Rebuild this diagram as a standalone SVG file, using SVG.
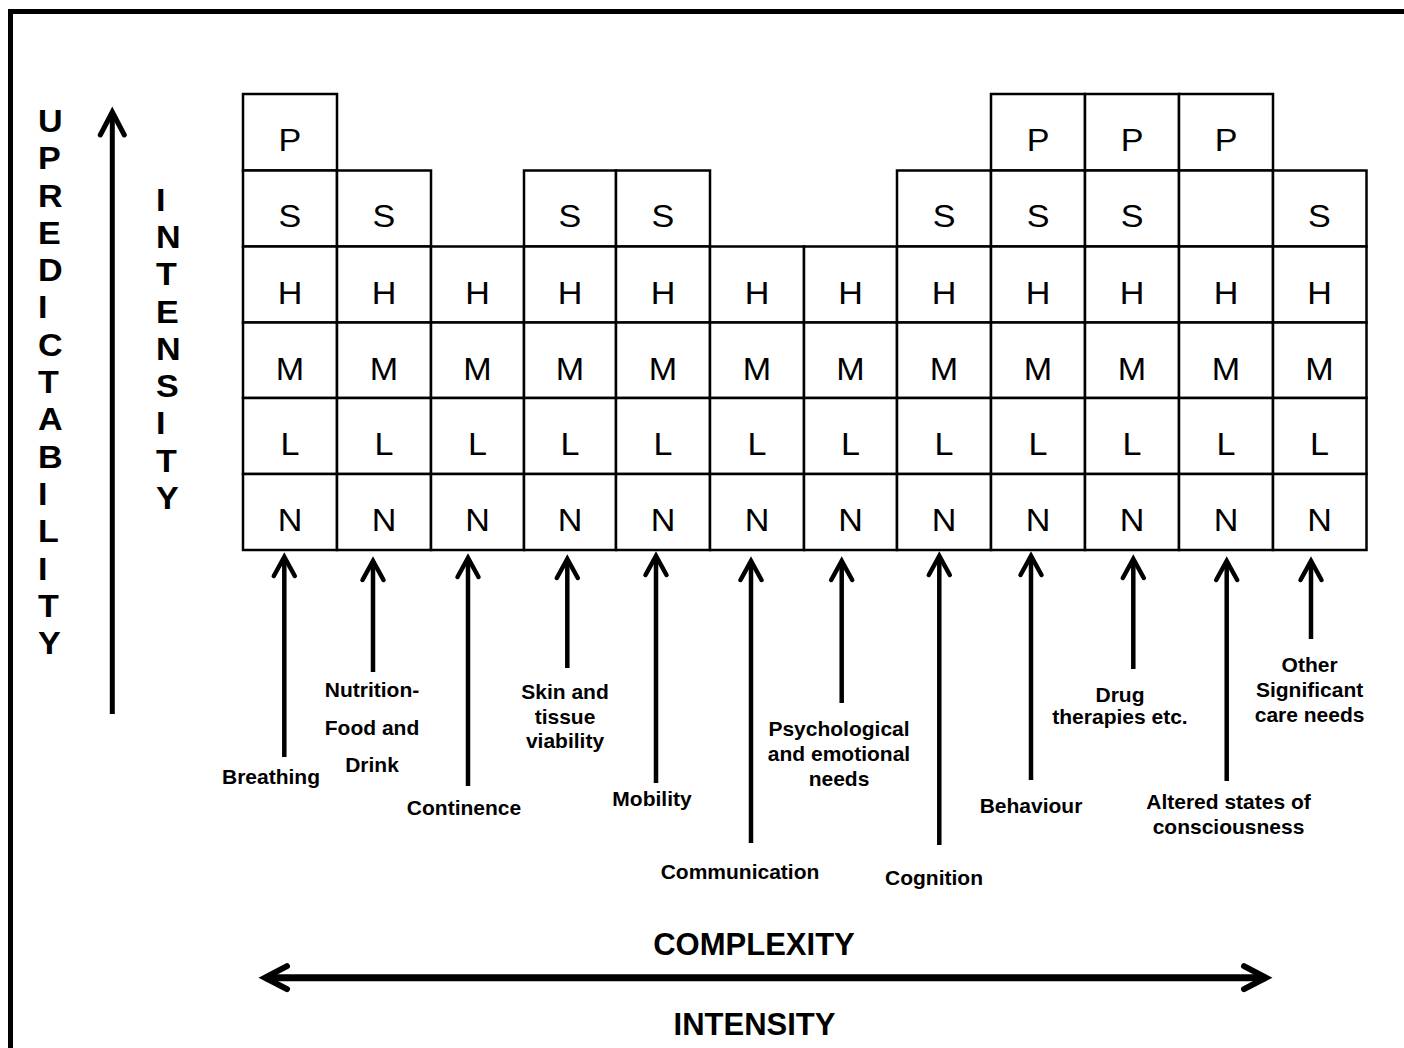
<svg xmlns="http://www.w3.org/2000/svg" width="1404" height="1048" viewBox="0 0 1404 1048">
<style>
.bg{fill:#fff}
.frame{fill:none;stroke:#000;stroke-width:5}
.cell{fill:#fff;stroke:#000;stroke-width:2.5}
.g{font-family:"Liberation Sans",Arial,sans-serif;font-size:31px;text-anchor:middle;fill:#000}
.g text{transform-box:fill-box;transform-origin:center;transform:scaleX(1.1)}
.lab{font-family:"Liberation Sans",Arial,sans-serif;font-weight:bold;font-size:21px;text-anchor:middle;fill:#000}
.axis{font-family:"Liberation Sans",Arial,sans-serif;font-weight:bold;font-size:31px;fill:#000}
.vert{transform-box:fill-box;transform-origin:left center;transform:scaleX(1.1)}
.conn{fill:none;stroke:#000;stroke-width:4.5;marker-end:url(#chev)}
.big{fill:none;stroke:#000;stroke-linecap:butt}
</style>
<defs>
<marker id="chev" markerUnits="userSpaceOnUse" viewBox="-25 -15 30 30" refX="0" refY="0" markerWidth="30" markerHeight="30" orient="auto" overflow="visible">
<path d="M-19,-10.5 L0,0 L-19,10.5" fill="none" stroke="#000" stroke-width="4.5" stroke-linecap="round" stroke-linejoin="miter"/>
</marker>
<marker id="chevBig" markerUnits="userSpaceOnUse" viewBox="-30 -16 36 32" refX="0" refY="0" markerWidth="36" markerHeight="32" orient="auto" overflow="visible">
<path d="M-23,-12 L0,0 L-23,12" fill="none" stroke="#000" stroke-width="5" stroke-linecap="round" stroke-linejoin="miter"/>
</marker>
<marker id="chevH" markerUnits="userSpaceOnUse" viewBox="-30 -16 36 32" refX="0" refY="0" markerWidth="36" markerHeight="32" orient="auto-start-reverse" overflow="visible">
<path d="M-22,-11.5 L0,0 L-22,11.5" fill="none" stroke="#000" stroke-width="6" stroke-linecap="round" stroke-linejoin="miter"/>
</marker>
</defs>
<rect class="bg" x="0" y="0" width="1404" height="1048"/>
<rect class="frame" x="10.5" y="11.5" width="1500" height="1500"/>

<g id="axis-unpredictability">
<line class="big" x1="112.3" y1="714" x2="112.3" y2="112" stroke-width="5" marker-end="url(#chevBig)"/>
<text class="axis vert" font-size="30"><tspan x="38" y="132">U</tspan><tspan x="38" dy="37.3">P</tspan><tspan x="38" dy="37.3">R</tspan><tspan x="38" dy="37.3">E</tspan><tspan x="38" dy="37.3">D</tspan><tspan x="38" dy="37.3">I</tspan><tspan x="38" dy="37.3">C</tspan><tspan x="38" dy="37.3">T</tspan><tspan x="38" dy="37.3">A</tspan><tspan x="38" dy="37.3">B</tspan><tspan x="38" dy="37.3">I</tspan><tspan x="38" dy="37.3">L</tspan><tspan x="38" dy="37.3">I</tspan><tspan x="38" dy="37.3">T</tspan><tspan x="38" dy="37.3">Y</tspan></text>
</g>
<g id="axis-intensity-vertical">
<text class="axis vert" font-size="30"><tspan x="156" y="211">I</tspan><tspan x="156" dy="37.25">N</tspan><tspan x="156" dy="37.25">T</tspan><tspan x="156" dy="37.25">E</tspan><tspan x="156" dy="37.25">N</tspan><tspan x="156" dy="37.25">S</tspan><tspan x="156" dy="37.25">I</tspan><tspan x="156" dy="37.25">T</tspan><tspan x="156" dy="37.25">Y</tspan></text>
</g>

<g id="grid">
<g id="col-breathing">
<rect class="cell" x="243" y="94" width="94" height="76.5"/>
<rect class="cell" x="243" y="170.5" width="94" height="76"/>
<rect class="cell" x="243" y="246.5" width="94" height="76"/>
<rect class="cell" x="243" y="322.5" width="94" height="75.5"/>
<rect class="cell" x="243" y="398" width="94" height="76"/>
<rect class="cell" x="243" y="474" width="94" height="76"/>
<g class="g"><text x="290" y="151">P</text><text x="290" y="227">S</text><text x="290" y="304">H</text><text x="290" y="380">M</text><text x="290" y="455">L</text><text x="290" y="531">N</text></g>
</g>
<g id="col-nutrition">
<rect class="cell" x="337" y="170.5" width="94" height="76"/>
<rect class="cell" x="337" y="246.5" width="94" height="76"/>
<rect class="cell" x="337" y="322.5" width="94" height="75.5"/>
<rect class="cell" x="337" y="398" width="94" height="76"/>
<rect class="cell" x="337" y="474" width="94" height="76"/>
<g class="g"><text x="384" y="227">S</text><text x="384" y="304">H</text><text x="384" y="380">M</text><text x="384" y="455">L</text><text x="384" y="531">N</text></g>
</g>
<g id="col-continence">
<rect class="cell" x="431" y="246.5" width="93" height="76"/>
<rect class="cell" x="431" y="322.5" width="93" height="75.5"/>
<rect class="cell" x="431" y="398" width="93" height="76"/>
<rect class="cell" x="431" y="474" width="93" height="76"/>
<g class="g"><text x="477.5" y="304">H</text><text x="477.5" y="380">M</text><text x="477.5" y="455">L</text><text x="477.5" y="531">N</text></g>
</g>
<g id="col-skin">
<rect class="cell" x="524" y="170.5" width="92" height="76"/>
<rect class="cell" x="524" y="246.5" width="92" height="76"/>
<rect class="cell" x="524" y="322.5" width="92" height="75.5"/>
<rect class="cell" x="524" y="398" width="92" height="76"/>
<rect class="cell" x="524" y="474" width="92" height="76"/>
<g class="g"><text x="570" y="227">S</text><text x="570" y="304">H</text><text x="570" y="380">M</text><text x="570" y="455">L</text><text x="570" y="531">N</text></g>
</g>
<g id="col-mobility">
<rect class="cell" x="616" y="170.5" width="94" height="76"/>
<rect class="cell" x="616" y="246.5" width="94" height="76"/>
<rect class="cell" x="616" y="322.5" width="94" height="75.5"/>
<rect class="cell" x="616" y="398" width="94" height="76"/>
<rect class="cell" x="616" y="474" width="94" height="76"/>
<g class="g"><text x="663" y="227">S</text><text x="663" y="304">H</text><text x="663" y="380">M</text><text x="663" y="455">L</text><text x="663" y="531">N</text></g>
</g>
<g id="col-communication">
<rect class="cell" x="710" y="246.5" width="94" height="76"/>
<rect class="cell" x="710" y="322.5" width="94" height="75.5"/>
<rect class="cell" x="710" y="398" width="94" height="76"/>
<rect class="cell" x="710" y="474" width="94" height="76"/>
<g class="g"><text x="757" y="304">H</text><text x="757" y="380">M</text><text x="757" y="455">L</text><text x="757" y="531">N</text></g>
</g>
<g id="col-psychological">
<rect class="cell" x="804" y="246.5" width="93" height="76"/>
<rect class="cell" x="804" y="322.5" width="93" height="75.5"/>
<rect class="cell" x="804" y="398" width="93" height="76"/>
<rect class="cell" x="804" y="474" width="93" height="76"/>
<g class="g"><text x="850.5" y="304">H</text><text x="850.5" y="380">M</text><text x="850.5" y="455">L</text><text x="850.5" y="531">N</text></g>
</g>
<g id="col-cognition">
<rect class="cell" x="897" y="170.5" width="94" height="76"/>
<rect class="cell" x="897" y="246.5" width="94" height="76"/>
<rect class="cell" x="897" y="322.5" width="94" height="75.5"/>
<rect class="cell" x="897" y="398" width="94" height="76"/>
<rect class="cell" x="897" y="474" width="94" height="76"/>
<g class="g"><text x="944" y="227">S</text><text x="944" y="304">H</text><text x="944" y="380">M</text><text x="944" y="455">L</text><text x="944" y="531">N</text></g>
</g>
<g id="col-behaviour">
<rect class="cell" x="991" y="94" width="94" height="76.5"/>
<rect class="cell" x="991" y="170.5" width="94" height="76"/>
<rect class="cell" x="991" y="246.5" width="94" height="76"/>
<rect class="cell" x="991" y="322.5" width="94" height="75.5"/>
<rect class="cell" x="991" y="398" width="94" height="76"/>
<rect class="cell" x="991" y="474" width="94" height="76"/>
<g class="g"><text x="1038" y="151">P</text><text x="1038" y="227">S</text><text x="1038" y="304">H</text><text x="1038" y="380">M</text><text x="1038" y="455">L</text><text x="1038" y="531">N</text></g>
</g>
<g id="col-drug">
<rect class="cell" x="1085" y="94" width="94" height="76.5"/>
<rect class="cell" x="1085" y="170.5" width="94" height="76"/>
<rect class="cell" x="1085" y="246.5" width="94" height="76"/>
<rect class="cell" x="1085" y="322.5" width="94" height="75.5"/>
<rect class="cell" x="1085" y="398" width="94" height="76"/>
<rect class="cell" x="1085" y="474" width="94" height="76"/>
<g class="g"><text x="1132" y="151">P</text><text x="1132" y="227">S</text><text x="1132" y="304">H</text><text x="1132" y="380">M</text><text x="1132" y="455">L</text><text x="1132" y="531">N</text></g>
</g>
<g id="col-altered">
<rect class="cell" x="1179" y="94" width="94" height="76.5"/>
<rect class="cell" x="1179" y="170.5" width="94" height="76"/>
<rect class="cell" x="1179" y="246.5" width="94" height="76"/>
<rect class="cell" x="1179" y="322.5" width="94" height="75.5"/>
<rect class="cell" x="1179" y="398" width="94" height="76"/>
<rect class="cell" x="1179" y="474" width="94" height="76"/>
<g class="g"><text x="1226" y="151">P</text><text x="1226" y="304">H</text><text x="1226" y="380">M</text><text x="1226" y="455">L</text><text x="1226" y="531">N</text></g>
</g>
<g id="col-other">
<rect class="cell" x="1273" y="170.5" width="93.5" height="76"/>
<rect class="cell" x="1273" y="246.5" width="93.5" height="76"/>
<rect class="cell" x="1273" y="322.5" width="93.5" height="75.5"/>
<rect class="cell" x="1273" y="398" width="93.5" height="76"/>
<rect class="cell" x="1273" y="474" width="93.5" height="76"/>
<g class="g"><text x="1319.5" y="227">S</text><text x="1319.5" y="304">H</text><text x="1319.5" y="380">M</text><text x="1319.5" y="455">L</text><text x="1319.5" y="531">N</text></g>
</g>
</g>

<g id="connectors">
<line class="conn" x1="284.3" y1="757" x2="284.3" y2="557"/>
<line class="conn" x1="373" y1="672" x2="373" y2="561"/>
<line class="conn" x1="468" y1="786" x2="468" y2="558"/>
<line class="conn" x1="567.3" y1="668" x2="567.3" y2="559"/>
<line class="conn" x1="656" y1="783" x2="656" y2="556"/>
<line class="conn" x1="751" y1="843" x2="751" y2="561"/>
<line class="conn" x1="841.7" y1="703" x2="841.7" y2="561"/>
<line class="conn" x1="939.3" y1="845" x2="939.3" y2="556"/>
<line class="conn" x1="1031" y1="780" x2="1031" y2="556"/>
<line class="conn" x1="1133.3" y1="669" x2="1133.3" y2="559"/>
<line class="conn" x1="1226.7" y1="781" x2="1226.7" y2="561"/>
<line class="conn" x1="1311" y1="639" x2="1311" y2="561"/>
</g>

<g id="label-breathing"><text class="lab" x="271" y="784">Breathing</text></g>
<g id="label-nutrition"><text class="lab"><tspan x="372" y="697">Nutrition-</tspan><tspan x="372" y="735">Food and</tspan><tspan x="372" y="772">Drink</tspan></text></g>
<g id="label-continence"><text class="lab" x="464" y="815">Continence</text></g>
<g id="label-skin"><text class="lab"><tspan x="565" y="699">Skin and</tspan><tspan x="565" y="723.5">tissue</tspan><tspan x="565" y="748">viability</tspan></text></g>
<g id="label-mobility"><text class="lab" x="652" y="806">Mobility</text></g>
<g id="label-communication"><text class="lab" x="740" y="879">Communication</text></g>
<g id="label-psychological"><text class="lab"><tspan x="839" y="736">Psychological</tspan><tspan x="839" y="760.7">and emotional</tspan><tspan x="839" y="785.5">needs</tspan></text></g>
<g id="label-cognition"><text class="lab" x="934" y="885">Cognition</text></g>
<g id="label-behaviour"><text class="lab" x="1031" y="813">Behaviour</text></g>
<g id="label-drug"><text class="lab"><tspan x="1120" y="701.5">Drug</tspan><tspan x="1120" y="724">therapies etc.</tspan></text></g>
<g id="label-altered"><text class="lab"><tspan x="1228.5" y="809.3">Altered states of</tspan><tspan x="1228.5" y="834.3">consciousness</tspan></text></g>
<g id="label-other"><text class="lab"><tspan x="1309.6" y="672.3">Other</tspan><tspan x="1309.6" y="696.7">Significant</tspan><tspan x="1309.6" y="721.7">care needs</tspan></text></g>

<g id="axis-complexity">
<text class="axis" x="754" y="955" text-anchor="middle">COMPLEXITY</text>
<line class="big" x1="265" y1="977.7" x2="1266" y2="977.7" stroke-width="7" marker-start="url(#chevH)" marker-end="url(#chevH)"/>
<text class="axis" x="754.5" y="1035" text-anchor="middle">INTENSITY</text>
</g>
</svg>
